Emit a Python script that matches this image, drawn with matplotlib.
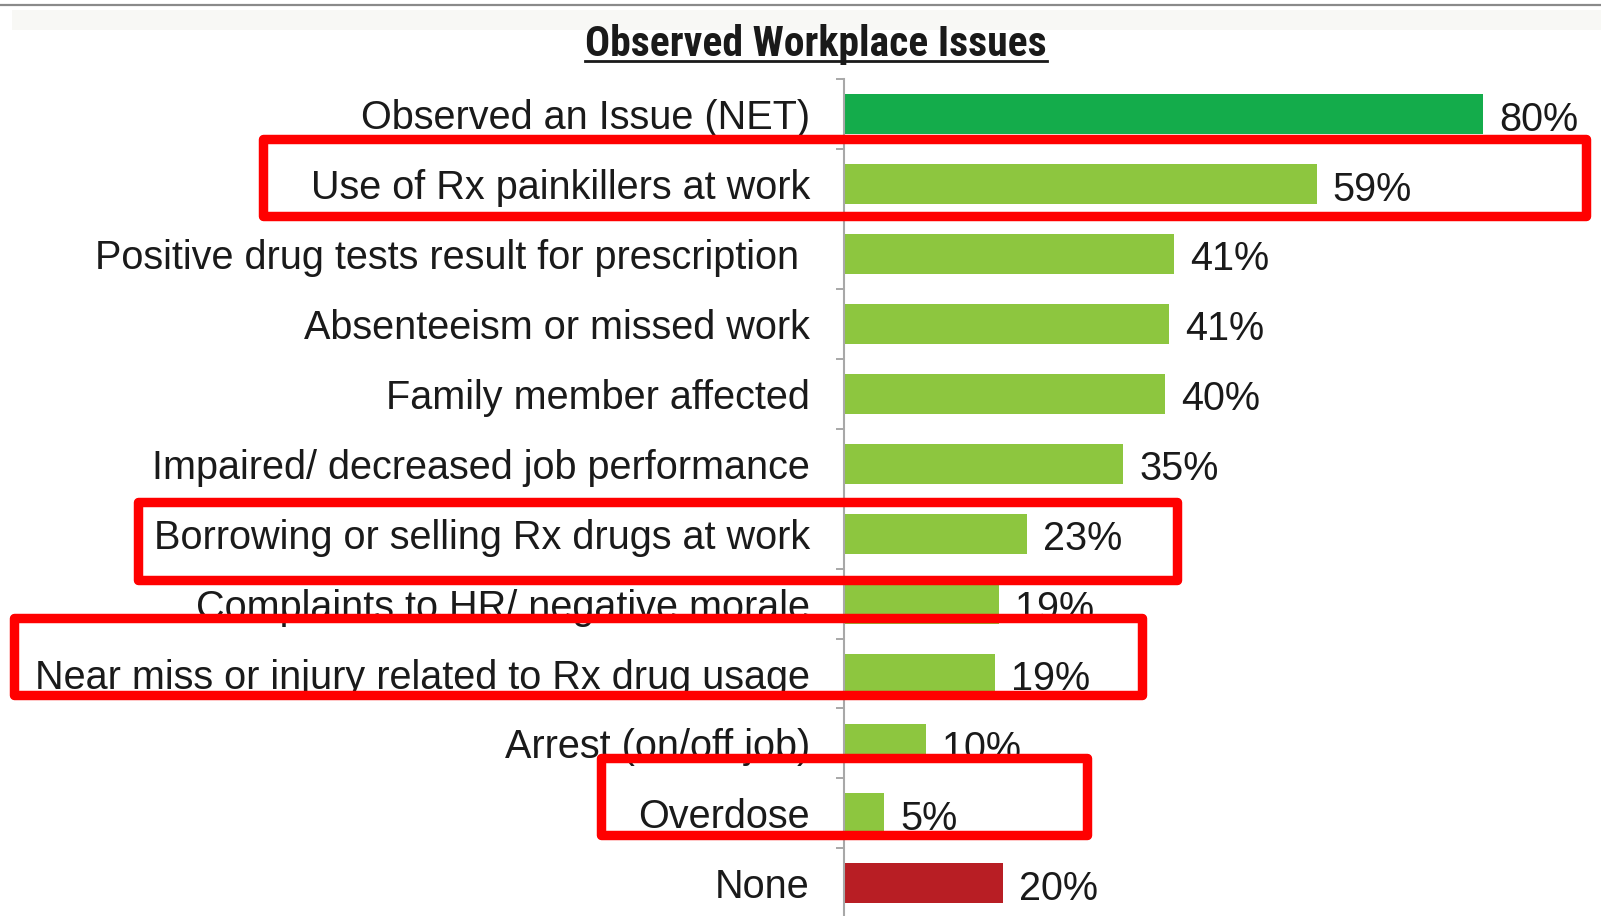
import matplotlib
matplotlib.use("Agg")
import matplotlib.pyplot as plt
from matplotlib import font_manager
from matplotlib.font_manager import FontProperties
from matplotlib.patches import Rectangle
from matplotlib.lines import Line2D

categories = [
    "Observed an Issue (NET)",
    "Use of Rx painkillers at work",
    "Positive drug tests result for prescription ",
    "Absenteeism or missed work",
    "Family member affected",
    "Impaired/ decreased job performance",
    "Borrowing or selling Rx drugs at work",
    "Complaints to HR/ negative morale",
    "Near miss or injury related to Rx drug usage",
    "Arrest (on/off job)",
    "Overdose",
    "None",
]
values = [79.9, 59.1, 41.3, 40.7, 40.2, 34.9, 22.9, 19.4, 18.9, 10.3, 5.0, 19.9]
value_labels = ["80%", "59%", "41%", "41%", "40%", "35%", "23%", "19%", "19%", "10%", "5%", "20%"]
bar_colors = ["#14AC4B"] + ["#8DC63F"] * 10 + ["#B81E24"]
title = "Observed Workplace Issues"

W, H = 1601, 916
DPI = 100
fig = plt.figure(figsize=(W / DPI, H / DPI), dpi=DPI)
fig.patch.set_facecolor("white")

names = {f.name for f in font_manager.fontManager.ttflist}
base_font = "Liberation Sans" if "Liberation Sans" in names else "DejaVu Sans"

# pick a condensed bold face for the title if one is installed
title_fp = None
cond_pref = ["Liberation Sans Narrow", "Roboto Condensed", "DejaVu Sans", "Open Sans"]
for pref in cond_pref:
    for f in font_manager.fontManager.ttflist:
        st = str(f.stretch).lower()
        is_cond = ("condensed" in st or "narrow" in f.name.lower() or "condensed" in f.name.lower()
                   or "narrow" in f.fname.lower() or "condensed" in f.fname.lower())
        wt = f.weight if isinstance(f.weight, int) else (700 if "bold" in str(f.weight).lower() else 400)
        if f.name.startswith(pref.split()[0]) and pref.split()[-1].lower() in (f.name + f.fname).lower() or f.name == pref:
            if is_cond and wt >= 600 and "italic" not in f.style.lower() and "oblique" not in f.style.lower():
                title_fp = FontProperties(fname=f.fname)
                break
    if title_fp is not None:
        break
if title_fp is None:
    title_fp = FontProperties(family=base_font, weight="bold")
    title_size = 27
else:
    title_size = 30
title_fp.set_size(title_size)


def fx(px):
    return px / W


def fy(py):
    return 1 - py / H


# axes geometry (pixel coords from the top)
ax_left, ax_right = 844, 1601
ax_top, ax_bottom = 79.3, 918.2
ax = fig.add_axes([fx(ax_left), fy(ax_bottom), fx(ax_right - ax_left), (ax_bottom - ax_top) / H])
px_per_pct = 7.995
ax.set_xlim(0, (ax_right - ax_left) / px_per_pct)
n = len(categories)
ax.set_ylim(n - 0.5, -0.5)

ypos = list(range(n))
bars = ax.barh(ypos, values, height=0.57, color=bar_colors, zorder=2)

ax.set_yticks(ypos)
ax.set_yticklabels(categories, fontsize=28.5, family=base_font, color="#1a1a1a")
ax.set_yticks([i - 0.5 for i in range(n + 1)], minor=True)
ax.tick_params(axis="y", which="major", length=0, pad=24.5)
ax.tick_params(axis="y", which="minor", length=6, width=1.2, color="#9a9a9a", direction="out")
ax.set_xticks([])
for s in ["top", "right", "bottom"]:
    ax.spines[s].set_visible(False)
ax.spines["left"].set_color("#a8a8a8")
ax.spines["left"].set_linewidth(1.5)

for b, lab in zip(bars, value_labels):
    ax.annotate(lab, (b.get_width(), b.get_y() + b.get_height() / 2),
                xytext=(11.5, -1), textcoords="offset points",
                va="center_baseline", ha="left", fontsize=28.5,
                family=base_font, color="#1a1a1a", zorder=3)

# top border line and faint band
fig.add_artist(Rectangle((fx(12), fy(30)), fx(W - 12), 20 / H, transform=fig.transFigure,
                         facecolor="#f8f8f5", edgecolor="none", zorder=0))
fig.add_artist(Line2D([0, 1], [fy(4.5), fy(4.5)], transform=fig.transFigure,
                      color="#8a8a8a", linewidth=1.6))

# title with underline
t = fig.text(fx(816), fy(56), title, ha="center", va="baseline",
             fontproperties=title_fp, color="#1a1a1a")
fig.canvas.draw()
bb = t.get_window_extent(renderer=fig.canvas.get_renderer())
uy = fy(61)
fig.add_artist(Line2D([bb.x0 / W, bb.x1 / W], [uy, uy], transform=fig.transFigure,
                      color="#1a1a1a", linewidth=2.0))

# red highlight boxes (annotation overlay), pixel coords of stroke centerlines
boxes = [
    (263, 139, 1586, 216),
    (138, 502, 1176.5, 579.5),
    (14, 618, 1141.5, 695),
    (601, 758, 1086.5, 834.5),
]
for x0, y0, x1, y1 in boxes:
    fig.add_artist(Rectangle((fx(x0), fy(y1)), fx(x1 - x0), (y1 - y0) / H,
                             transform=fig.transFigure, facecolor="none",
                             edgecolor="#FF0000", linewidth=6.8, joinstyle="round",
                             zorder=10))

fig.savefig("out.png", dpi=DPI)
